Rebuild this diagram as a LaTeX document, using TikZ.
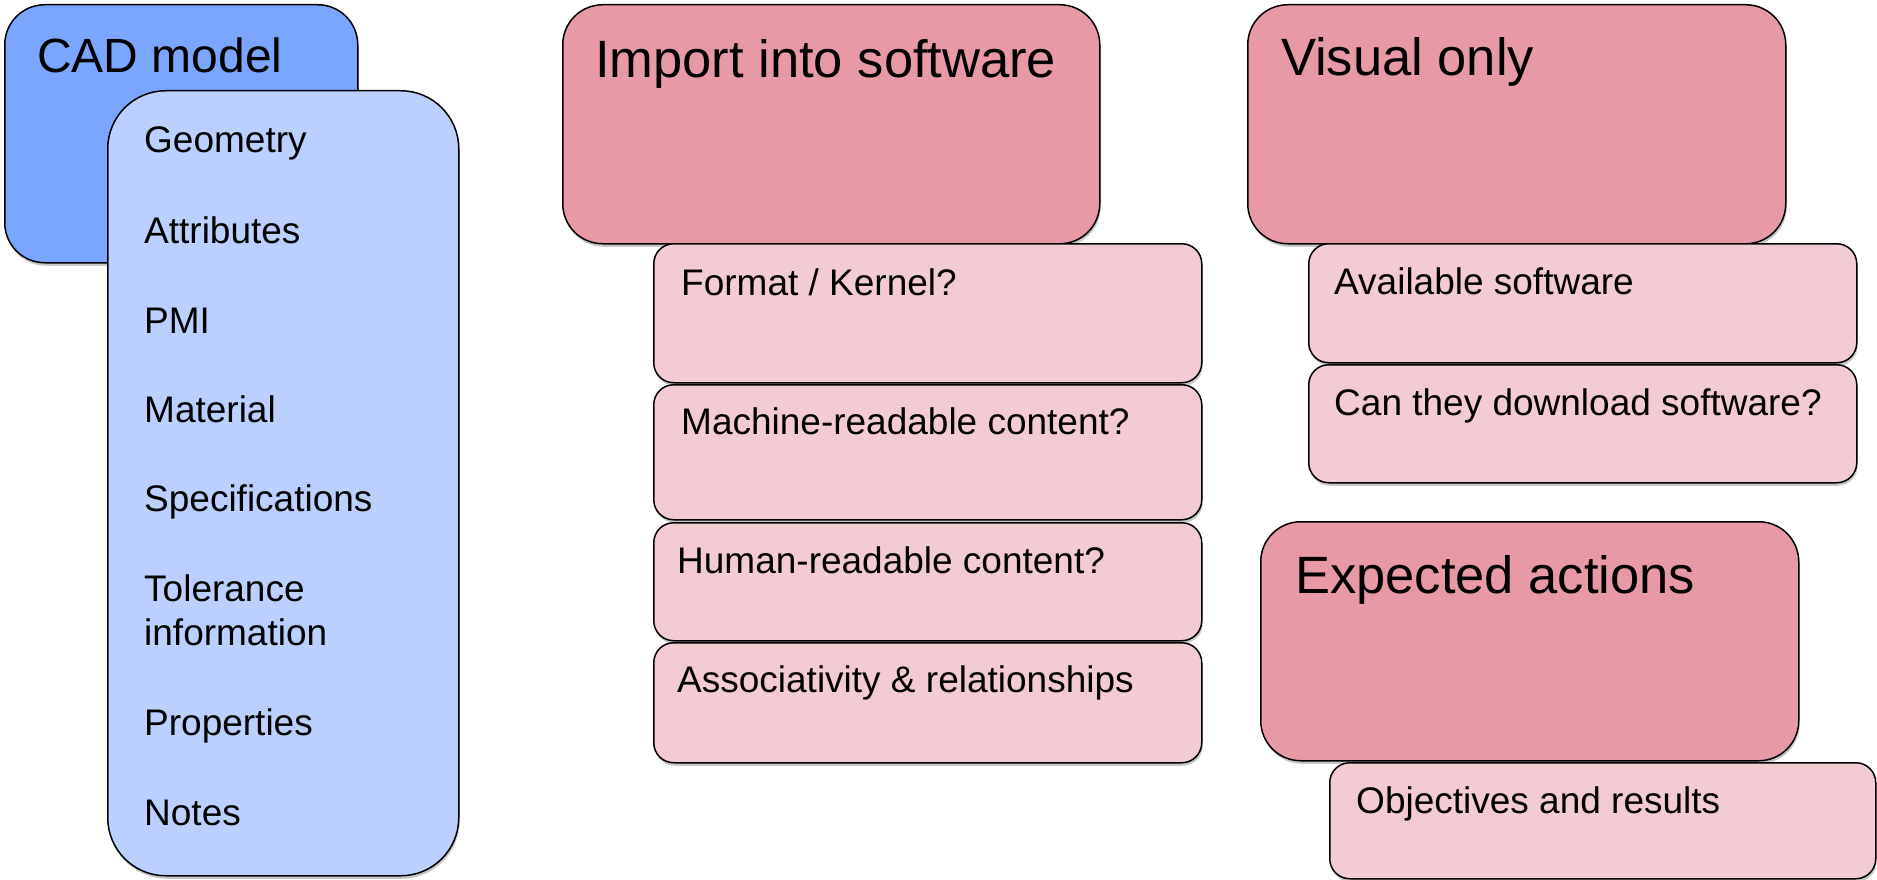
\documentclass[tikz,border=0pt]{standalone}
\usepackage{fontspec}
\setmainfont{Liberation Sans}
\usetikzlibrary{shadows}
\definecolor{cadblue}{RGB}{122,166,255}
\definecolor{listblue}{RGB}{187,208,255}
\definecolor{titlepink}{RGB}{231,153,166}
\definecolor{subpink}{RGB}{243,203,210}
\tikzset{
  box/.style={draw=black, line width=1.5pt, anchor=north west, inner sep=0pt,
    drop shadow={shadow xshift=1pt, shadow yshift=-3pt, opacity=0.22, fill=black}},
  cadbox/.style={box, fill=cadblue, rounded corners=40pt},
  listbox/.style={box, fill=listblue, rounded corners=58pt},
  titlebox/.style={box, fill=titlepink, rounded corners=40pt},
  subbox/.style={box, fill=subpink, rounded corners=20pt},
  cadtxt/.style={anchor=base west, inner sep=0pt, font=\fontsize{48}{56}\selectfont},
  titletxt/.style={anchor=base west, inner sep=0pt, font=\fontsize{52.5}{60}\selectfont},
  itemtxt/.style={anchor=base west, inner sep=0pt, font=\fontsize{37}{44}\selectfont},
}
\begin{document}
\begin{tikzpicture}[x=1pt,y=-1pt]
\useasboundingbox (0,0) rectangle (1877,880);

% left group
\node[cadbox, minimum width=353pt, minimum height=258pt] (cad) at (4,4) {};
\node[cadtxt] (cadt) at (37,73) {CAD model};
\node[listbox, minimum width=351pt, minimum height=785pt] (list) at (107,90) {};
\node[itemtxt] (l1) at (144,153) {Geometry};
\node[itemtxt] (l2) at (144,243) {Attributes};
\node[itemtxt] (l3) at (144,333) {PMI};
\node[itemtxt] (l4) at (144,422) {Material};
\node[itemtxt] (l5) at (144,511) {Specifications};
\node[itemtxt] (l6) at (144,601) {Tolerance};
\node[itemtxt] (l6b) at (144,645) {information};
\node[itemtxt] (l7) at (144,735) {Properties};
\node[itemtxt] (l8) at (144,825) {Notes};

% import group
\node[titlebox, minimum width=537pt, minimum height=239pt] (imp) at (562,4) {};
\node[titletxt] (impt) at (595,78) {Import into software};
\node[subbox, minimum width=548pt, minimum height=139pt] (fmt) at (653,243) {};
\node[itemtxt] (fmtt) at (681,295) {Format / Kernel?};
\node[subbox, minimum width=548pt, minimum height=135pt] (mach) at (653,384) {};
\node[itemtxt] (macht) at (681,434) {Machine-readable content?};
\node[subbox, minimum width=548pt, minimum height=118pt] (hum) at (653,522) {};
\node[itemtxt] (humt) at (677,573) {Human-readable content?};
\node[subbox, minimum width=548pt, minimum height=120pt] (assoc) at (653,642) {};
\node[itemtxt] (assoct) at (677,692) {Associativity \& relationships};

% visual group
\node[titlebox, minimum width=538pt, minimum height=239pt] (vis) at (1247,4) {};
\node[titletxt] (vist) at (1281,76) {Visual only};
\node[subbox, minimum width=548pt, minimum height=119pt] (avail) at (1308,243) {};
\node[itemtxt] (availt) at (1334,294) {Available software};
\node[subbox, minimum width=548pt, minimum height=118pt] (dl) at (1308,364) {};
\node[itemtxt] (dlt) at (1334,415) {Can they download software?};

% expected group
\node[titlebox, minimum width=538pt, minimum height=239pt] (exp) at (1260,521) {};
\node[titletxt] (expt) at (1295,593) {Expected actions};
\node[subbox, minimum width=546pt, minimum height=116pt] (obj) at (1329,762) {};
\node[itemtxt] (objt) at (1356,813) {Objectives and results};
\end{tikzpicture}
\end{document}
